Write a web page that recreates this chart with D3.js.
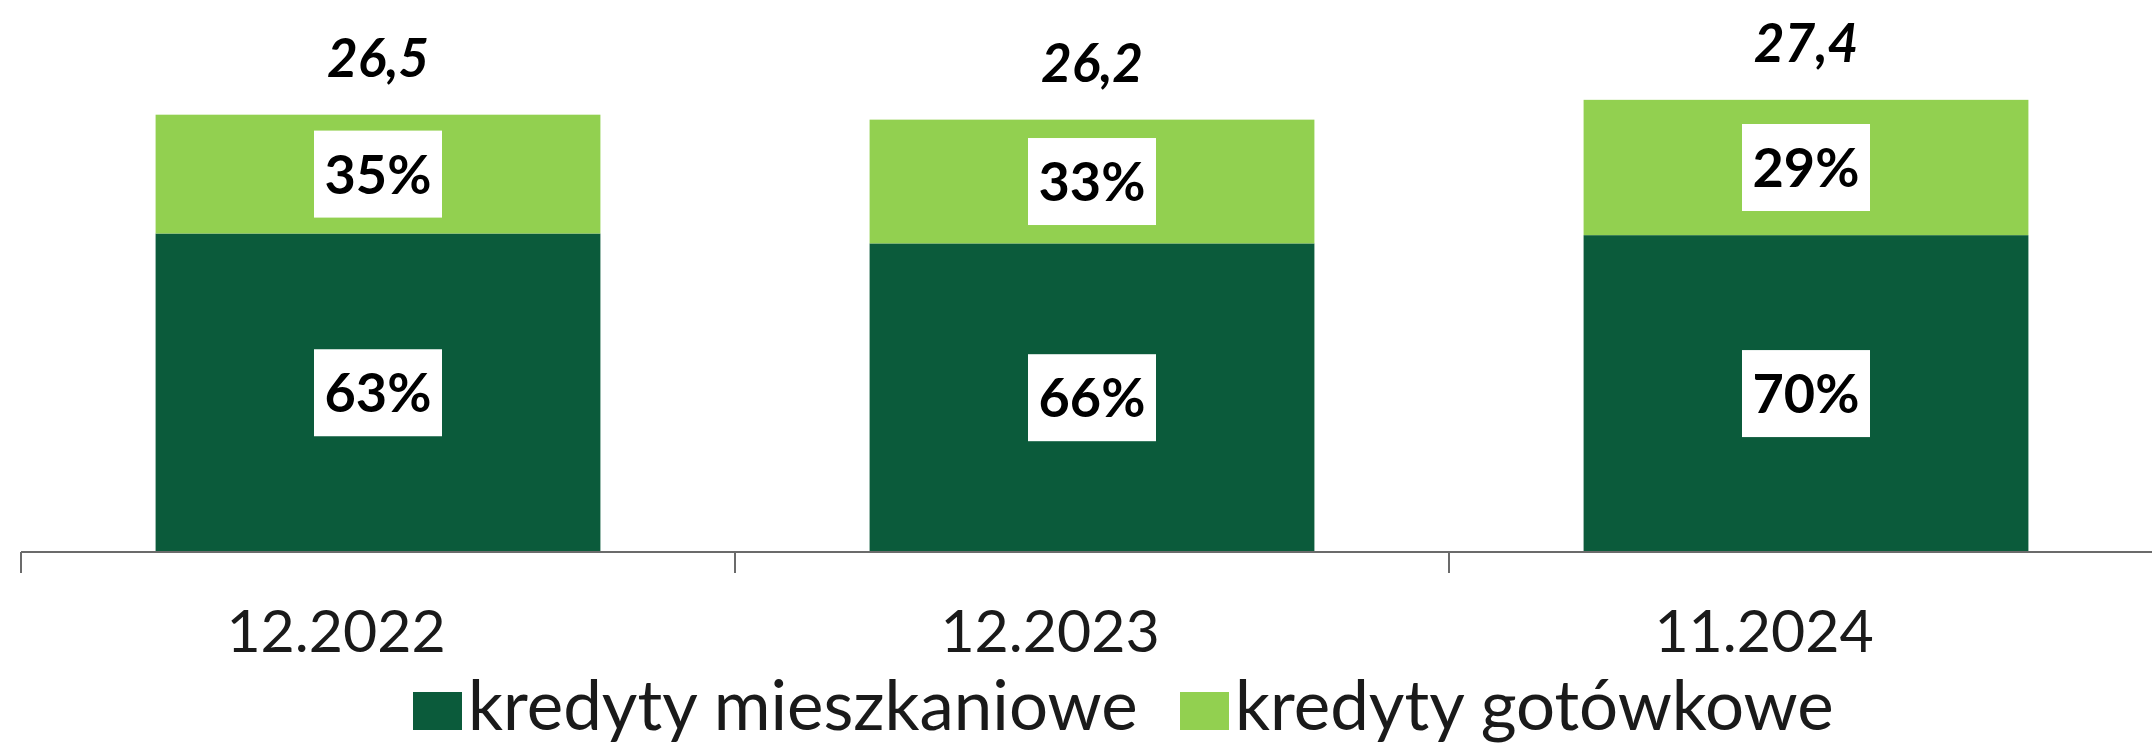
<!DOCTYPE html>
<html>
<head>
<meta charset="utf-8">
<script src="https://cdn.jsdelivr.net/npm/d3@7"></script>
<style>
  html, body { margin: 0; padding: 0; background: #ffffff; }
  svg { display: block; }
  text { font-family: Lato, "Open Sans", "Noto Sans", sans-serif; fill: #000; }
</style>
</head>
<body>
<svg id="chart" width="2152" height="744"></svg>
<script>
// ---- data ----
const categories = ["12.2022", "12.2023", "11.2024"];
const series = ["kredyty mieszkaniowe", "kredyty gotówkowe"];
const mortgage = [19.3, 18.7, 19.2];     // dark segment height (units of total)
const cash = [7.2, 7.5, 8.2];            // light segment height
const totals = [26.5, 26.2, 27.4];
const totalLabels = ["26,5", "26,2", "27,4"];
const mortgageLabels = ["63%", "66%", "70%"];
const cashLabels = ["35%", "33%", "29%"];
const colors = ["#0b5b3b", "#92d050"];

// ---- layout ----
const svg = d3.select("#chart");
const W = 2152, H = 744;
const axisY = 552;

const x = d3.scaleBand()
  .domain(categories)
  .range([21, 2163])
  .paddingInner(0.377)
  .paddingOuter(0.1885);

const y = d3.scaleLinear()
  .domain([0, 33.45])
  .range([axisY, 0]);

const rows = categories.map((c, i) => ({
  cat: c, mortgage: mortgage[i], cash: cash[i], total: totals[i],
  totalLabel: totalLabels[i], mLabel: mortgageLabels[i], cLabel: cashLabels[i]
}));

const stack = d3.stack().keys(["mortgage", "cash"]);
const stacked = stack(rows);

const g = svg.append("g");

// bars
g.selectAll("g.series")
  .data(stacked)
  .join("g")
  .attr("class", "series")
  .attr("fill", (d, i) => colors[i])
  .selectAll("rect")
  .data(d => d)
  .join("rect")
  .attr("x", d => x(d.data.cat))
  .attr("width", x.bandwidth())
  .attr("y", d => y(d[1]))
  .attr("height", d => y(d[0]) - y(d[1]));

// segment labels in white boxes
const boxW = 128, boxH = 87;
stacked.forEach((s, si) => {
  const lab = g.selectAll(null)
    .data(s)
    .join("g")
    .attr("transform", d => `translate(${x(d.data.cat) + x.bandwidth() / 2},${(y(d[0]) + y(d[1])) / 2})`);
  lab.append("rect")
    .attr("x", -boxW / 2).attr("y", -boxH / 2)
    .attr("width", boxW).attr("height", boxH)
    .attr("fill", "#ffffff");
  lab.append("text")
    .attr("text-anchor", "middle")
    .attr("dy", "0.36em")
    .style("font-size", "54px")
    .style("font-weight", "700")
    .text(d => si === 0 ? d.data.mLabel : d.data.cLabel);
});

// total labels above bars
g.selectAll("text.total")
  .data(rows)
  .join("text")
  .attr("class", "total")
  .attr("x", d => x(d.cat) + x.bandwidth() / 2)
  .attr("y", d => y(d.total) - 38)
  .attr("text-anchor", "middle")
  .style("font-size", "53px")
  .style("font-weight", "700")
  .style("font-style", "italic")
  .text(d => d.totalLabel);

// axis line and boundary ticks
const axisColor = "#6b6b6b";
g.append("line")
  .attr("x1", x.range()[0]).attr("x2", W)
  .attr("y1", axisY).attr("y2", axisY)
  .attr("stroke", axisColor).attr("stroke-width", 2);

const boundaries = categories.map(c => x(c) - x.step() * x.paddingInner() / 2)
  .concat([x(categories[categories.length - 1]) + x.bandwidth() + x.step() * x.paddingInner() / 2]);
g.selectAll("line.tick")
  .data(boundaries)
  .join("line")
  .attr("class", "tick")
  .attr("x1", d => d).attr("x2", d => d)
  .attr("y1", axisY).attr("y2", axisY + 21)
  .attr("stroke", axisColor).attr("stroke-width", 2);

// category labels
g.selectAll("text.cat")
  .data(categories)
  .join("text")
  .attr("class", "cat")
  .attr("x", d => x(d) + x.bandwidth() / 2 - 42)
  .attr("y", 652)
  .attr("text-anchor", "middle")
  .style("font-size", "59px")
  .style("fill", "#1a1a1a")
  .text(d => d);

// legend
const legendX = [413, 1180];
const leg = g.selectAll("g.legend")
  .data(series)
  .join("g")
  .attr("class", "legend")
  .attr("transform", (d, i) => `translate(${legendX[i]},0)`);
leg.append("rect")
  .attr("x", 0).attr("y", 692)
  .attr("width", 49).attr("height", 38)
  .attr("fill", (d, i) => colors[i]);
leg.append("text")
  .attr("x", 55)
  .attr("y", 730)
  .style("font-size", "69px")
  .style("fill", "#1a1a1a")
  .text(d => d);
</script>
</body>
</html>
